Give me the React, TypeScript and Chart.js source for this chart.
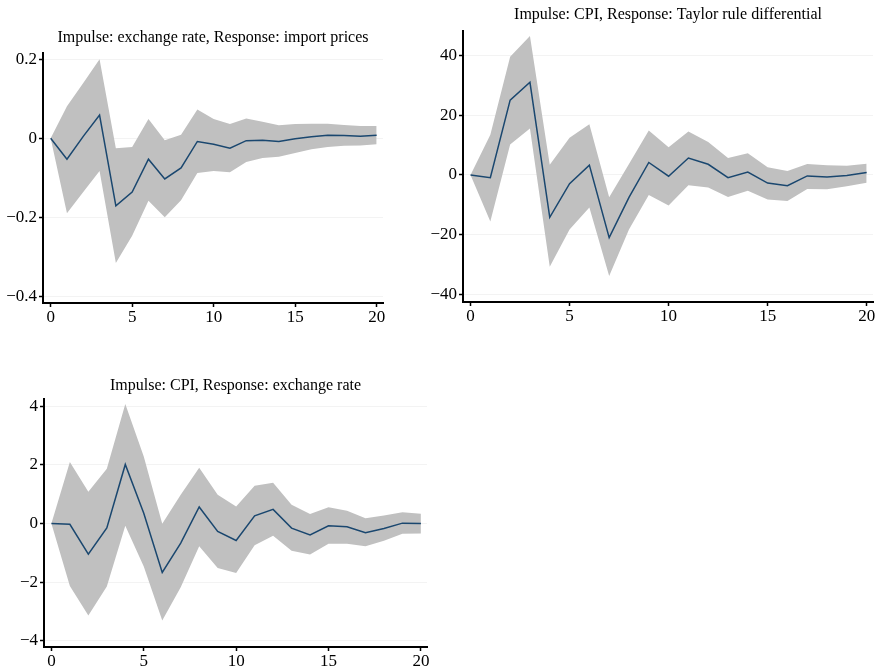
import React, { useEffect, useRef } from "react";
import { Chart, registerables } from "chart.js";

Chart.register(...registerables);

// ---------- data ----------
const steps = [0, 1, 2, 3, 4, 5, 6, 7, 8, 9, 10, 11, 12, 13, 14, 15, 16, 17, 18, 19, 20];
const xTickValues = [0, 5, 10, 15, 20];

// Panel 1: Impulse: exchange rate, Response: import prices
const p1Title = "Impulse: exchange rate, Response: import prices";
const p1Irf = [0, -0.053, 0.005, 0.059, -0.171, -0.136, -0.053, -0.103, -0.075, -0.008, -0.015, -0.025, -0.006, -0.005, -0.008, -0.001, 0.004, 0.008, 0.007, 0.005, 0.008];
const p1Upper = [0, 0.081, 0.14, 0.2, -0.025, -0.022, 0.049, -0.005, 0.009, 0.073, 0.049, 0.036, 0.05, 0.042, 0.033, 0.036, 0.037, 0.037, 0.034, 0.031, 0.031];
const p1Lower = [0, -0.19, -0.136, -0.083, -0.316, -0.247, -0.158, -0.2, -0.157, -0.088, -0.083, -0.086, -0.06, -0.05, -0.047, -0.037, -0.028, -0.022, -0.019, -0.018, -0.015];
const p1YTicks = [0.2, 0, -0.2, -0.4];

// Panel 2: Impulse: CPI, Response: Taylor rule differential
const p2Title = "Impulse: CPI, Response: Taylor rule differential";
const p2Irf = [0, -0.9, 25.1, 31.1, -14.2, -2.9, 3.3, -21, -7.5, 4.2, -0.4, 5.7, 3.6, -0.9, 1.0, -2.7, -3.6, -0.3, -0.7, -0.2, 0.8];
const p2Upper = [0, 13.5, 39.7, 46.6, 3.4, 12.5, 17, -7.5, 3.7, 14.9, 9.3, 14.6, 11.1, 5.7, 7.3, 2.6, 1.3, 3.7, 3.3, 3.1, 3.8];
const p2Lower = [0, -15.6, 10.2, 15.6, -30.8, -18.3, -10.9, -33.9, -18.3, -6.7, -10.2, -3.4, -4.2, -7.4, -5.3, -8.2, -8.7, -4.7, -4.8, -3.8, -2.6];
const p2YTicks = [40, 20, 0, -20, -40];

// Panel 3: Impulse: CPI, Response: exchange rate
const p3Title = "Impulse: CPI, Response: exchange rate";
const p3Irf = [0, -0.03, -1.05, -0.15, 2.01, 0.35, -1.67, -0.67, 0.56, -0.27, -0.58, 0.26, 0.48, -0.16, -0.39, -0.08, -0.11, -0.32, -0.17, 0.01, 0];
const p3Upper = [0, 2.09, 1.08, 1.86, 4.07, 2.28, -0.01, 0.98, 1.9, 0.98, 0.58, 1.28, 1.39, 0.64, 0.32, 0.55, 0.43, 0.18, 0.27, 0.38, 0.33];
const p3Lower = [0, -2.13, -3.14, -2.15, -0.08, -1.47, -3.31, -2.17, -0.78, -1.52, -1.69, -0.74, -0.42, -0.93, -1.06, -0.69, -0.69, -0.78, -0.59, -0.35, -0.34];
const p3YTicks = [4, 2, 0, -2, -4];

// ---------- styling / layout ----------
const FONT = "'Liberation Serif', 'DejaVu Serif', 'Times New Roman', serif";
const LINE_COLOR = "#1a476f";
const BAND_COLOR = "#c0c0c0";
const GRID_COLOR = "#f3f3f3";
const TITLE_SIZE = 16;
const TICK_SIZE = 17;

type PanelCfg = {
  title: string;
  irf: number[];
  upper: number[];
  lower: number[];
  yTicks: number[];
  left: number;
  top: number;
  w: number;
  h: number;
  padTop: number;
  titleBottom: number;
  yW: number;
  padRight: number;
  xH: number;
  padBottom: number;
  xMin: number;
  xMax: number;
  yMin: number;
  yMax: number;
};

const panels: PanelCfg[] = [
  {
    title: p1Title, irf: p1Irf, upper: p1Upper, lower: p1Lower, yTicks: p1YTicks,
    left: 0, top: 0, w: 400, h: 330, padTop: 28, titleBottom: 5.8, yW: 43, padRight: 17, xH: 25, padBottom: 2,
    xMin: -0.47, xMax: 20.39, yMin: -0.417, yMax: 0.216,
  },
  {
    title: p2Title, irf: p2Irf, upper: p2Upper, lower: p2Lower, yTicks: p2YTicks,
    left: 410, top: 0, w: 468, h: 330, padTop: 5, titleBottom: 6.5, yW: 53, padRight: 5, xH: 25, padBottom: 3,
    xMin: -0.38, xMax: 20.32, yMin: -42.6, yMax: 48.4,
  },
  {
    title: p3Title, irf: p3Irf, upper: p3Upper, lower: p3Lower, yTicks: p3YTicks,
    left: 0, top: 360, w: 440, h: 308, padTop: 16, titleBottom: 3.8, yW: 44, padRight: 13, xH: 20, padBottom: 1,
    xMin: -0.4, xMax: 20.33, yMin: -4.21, yMax: 4.24,
  },
];

function fmt(v: number): string {
  if (v === 0) return "0";
  return String(v).replace("-", "\u2212");
}

function Panel({ cfg }: { cfg: PanelCfg }) {
  const ref = useRef<HTMLCanvasElement | null>(null);
  useEffect(() => {
    if (!ref.current) return;
    const pts = (arr: number[]) => steps.map((s, i) => ({ x: s, y: arr[i] }));
    const chart = new Chart(ref.current, {
      type: "line",
      data: {
        datasets: [
          {
            data: pts(cfg.irf),
            borderColor: LINE_COLOR,
            borderWidth: 1.5,
            pointRadius: 0,
            fill: false,
            tension: 0,
            order: 0,
          },
          {
            data: pts(cfg.lower),
            borderWidth: 0,
            borderColor: "rgba(0,0,0,0)",
            pointRadius: 0,
            fill: false,
            tension: 0,
            order: 1,
          },
          {
            data: pts(cfg.upper),
            borderWidth: 0,
            borderColor: "rgba(0,0,0,0)",
            backgroundColor: BAND_COLOR,
            pointRadius: 0,
            fill: "-1",
            tension: 0,
            order: 1,
          },
        ],
      },
      options: {
        responsive: false,
        animation: false,
        devicePixelRatio: 1,
        layout: {
          padding: { top: cfg.padTop, left: 0, right: cfg.padRight, bottom: cfg.padBottom },
        },
        plugins: {
          legend: { display: false },
          tooltip: { enabled: false },
          title: {
            display: true,
            text: cfg.title,
            fullSize: false,
            color: "#000",
            font: { family: FONT, size: TITLE_SIZE, weight: "normal", lineHeight: 1.2 },
            padding: { top: 0, bottom: cfg.titleBottom },
          },
        },
        scales: {
          x: {
            type: "linear",
            min: cfg.xMin,
            max: cfg.xMax,
            afterBuildTicks: (s: any) => {
              s.ticks = xTickValues.map((v) => ({ value: v }));
            },
            afterFit: (s: any) => {
              s.height = cfg.xH;
            },
            grid: {
              drawOnChartArea: false,
              drawTicks: true,
              tickLength: 4,
              tickColor: "#000",
              tickWidth: 1.5,
            },
            border: { display: true, color: "#000", width: 2 },
            ticks: {
              color: "#000",
              font: { family: FONT, size: TICK_SIZE },
              padding: 0,
              maxRotation: 0,
              autoSkip: false,
              callback: (v: any) => fmt(Number(v)),
            },
          },
          y: {
            type: "linear",
            min: cfg.yMin,
            max: cfg.yMax,
            afterBuildTicks: (s: any) => {
              s.ticks = cfg.yTicks.map((v) => ({ value: v }));
            },
            afterFit: (s: any) => {
              s.width = cfg.yW;
            },
            grid: {
              drawOnChartArea: true,
              color: GRID_COLOR,
              lineWidth: 1,
              drawTicks: true,
              tickLength: 4,
              tickColor: "#000",
              tickWidth: 1.5,
            },
            border: { display: true, color: "#000", width: 2 },
            ticks: {
              color: "#000",
              font: { family: FONT, size: TICK_SIZE },
              padding: 2,
              autoSkip: false,
              callback: (v: any) => fmt(Number(v)),
            },
          },
        },
      },
    } as any);
    return () => chart.destroy();
  }, [cfg]);
  return (
    <div style={{ position: "absolute", left: cfg.left, top: cfg.top, width: cfg.w, height: cfg.h }}>
      <canvas ref={ref} width={cfg.w} height={cfg.h} style={{ width: cfg.w, height: cfg.h, display: "block" }} />
    </div>
  );
}

export default function App() {
  return (
    <div style={{ position: "absolute", left: 0, top: 0, width: 878, height: 668, background: "#fff" }}>
      {panels.map((p, i) => (
        <Panel key={i} cfg={p} />
      ))}
    </div>
  );
}
